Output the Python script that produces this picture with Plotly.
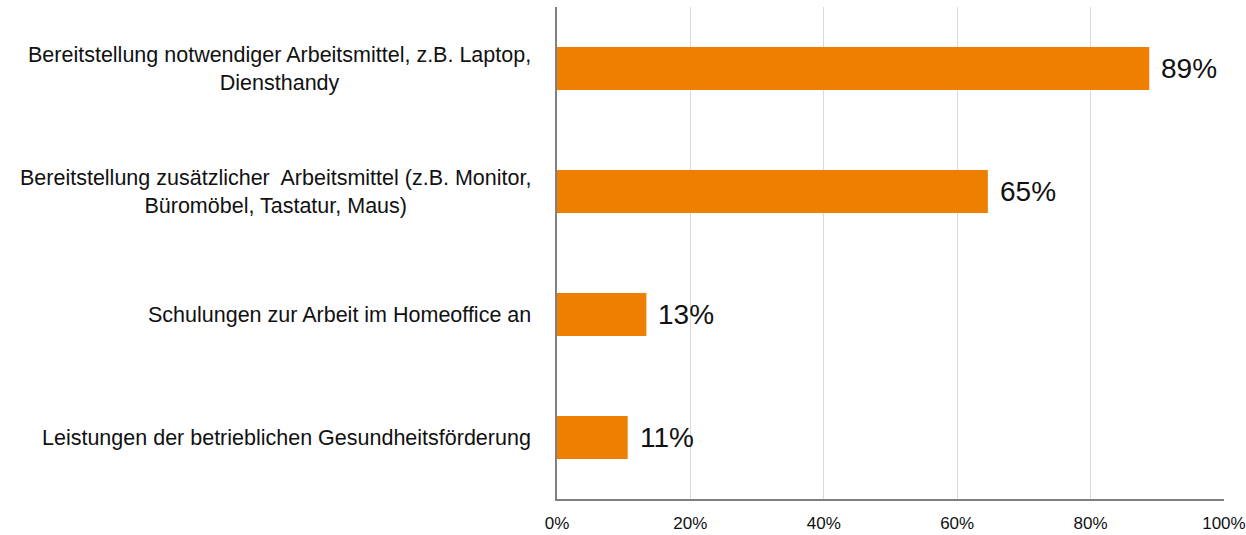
import plotly.graph_objects as go

# Survey answers (share of respondents), top to bottom
categories = [
    "Bereitstellung notwendiger Arbeitsmittel, z.B. Laptop,<br>Diensthandy",
    "Bereitstellung zusätzlicher  Arbeitsmittel (z.B. Monitor,<br>Büromöbel, Tastatur, Maus)",
    "Schulungen zur Arbeit im Homeoffice an",
    "Leistungen der betrieblichen Gesundheitsförderung",
]
values = [0.888, 0.646, 0.134, 0.106]
x_ticks = [0, 0.2, 0.4, 0.6, 0.8, 1.0]
x_tick_labels = ["0%", "20%", "40%", "60%", "80%", "100%"]

ORANGE = "#EF7F00"
FONT = "Liberation Sans, Arial, sans-serif"

fig = go.Figure(
    go.Bar(
        x=values,
        y=categories,
        orientation="h",
        marker=dict(color=ORANGE, line=dict(width=0)),
        hoverinfo="skip",
    )
)

# category labels (centered multi-line, right of the box touches the axis)
for cat in categories:
    fig.add_annotation(
        x=0, xref="paper", y=cat, yref="y",
        text=cat, showarrow=False,
        xanchor="right", align="center", xshift=-24,
        font=dict(family=FONT, size=21.5, color="#111111"),
    )

# value labels
for cat, v in zip(categories, values):
    fig.add_annotation(
        x=v, y=cat, text=f"{v:.0%}", showarrow=False,
        xanchor="left", xshift=10,
        font=dict(family=FONT, size=28, color="#111111"),
    )

fig.update_layout(
    width=1246,
    height=535,
    margin=dict(l=557, r=22, t=7, b=36),
    plot_bgcolor="white",
    paper_bgcolor="white",
    bargap=0.65,
    showlegend=False,
    font=dict(family=FONT, color="#111111"),
    xaxis=dict(
        range=[0, 1.0001],
        tickvals=x_ticks,
        ticktext=x_tick_labels,
        showgrid=True,
        gridcolor="#d9d9d9",
        gridwidth=1,
        showline=True,
        linecolor="#808080",
        linewidth=2,
        zeroline=False,
        ticks="",
        ticklabelstandoff=8,
        tickfont=dict(family=FONT, size=17, color="#111111"),
        automargin=False,
        fixedrange=True,
    ),
    yaxis=dict(
        autorange="reversed",
        showticklabels=False,
        showgrid=False,
        showline=True,
        linecolor="#808080",
        linewidth=2,
        ticks="",
        automargin=False,
        fixedrange=True,
    ),
)

# page body has a default 8px margin; drop it so the figure fills the window
fig.write_html(
    "out.html",
    config={"displayModeBar": False},
    post_script="document.body.style.margin='0';",
)
